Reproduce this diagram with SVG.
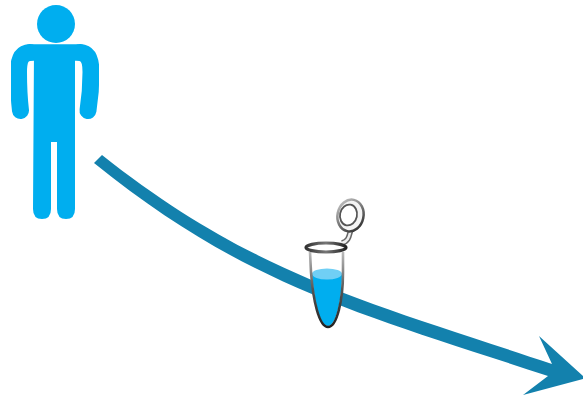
<svg xmlns="http://www.w3.org/2000/svg" width="583" height="397" viewBox="0 0 583 397">
<style>
.p{fill:#00aeef}
.pa{fill:none;stroke:#00aeef;stroke-linecap:round;stroke-linejoin:round}
</style>
<defs>
<filter id="soft" x="-10%" y="-10%" width="120%" height="120%"><feGaussianBlur stdDeviation="0.7"/></filter>
<linearGradient id="ring" x1="0" y1="0" x2="1" y2="1"><stop offset="0" stop-color="#ccc"/><stop offset="0.5" stop-color="#777"/><stop offset="1" stop-color="#222"/></linearGradient>
<linearGradient id="rim" x1="0" y1="0" x2="1" y2="0"><stop offset="0" stop-color="#333"/><stop offset="0.5" stop-color="#777"/><stop offset="1" stop-color="#222"/></linearGradient>
<linearGradient id="wall" x1="0" y1="0" x2="0" y2="1"><stop offset="0" stop-color="#bbb"/><stop offset="0.5" stop-color="#555"/><stop offset="1" stop-color="#222"/></linearGradient>
</defs>
<rect width="583" height="397" fill="#fff"/>
<g id="connectors">
<path fill="#1381ad" d="M102,155 C251,273 362,300.500 552,364 L539,336 L583,376 L583,379 L523,395 L548,376 C358,313.500 245,285 94,163 Z"/>
</g>
<g id="person" filter="url(#soft)">
<circle class="p" cx="56" cy="24" r="19"/>
<path class="pa" stroke-width="16.500" d="M30,52.500 L80,52.500"/>
<path class="pa" stroke-width="17" d="M30,52.500 C21,53 18.500,60 18.500,72 C18.500,84 19,98 20.500,110.500"/>
<path class="pa" stroke-width="17" d="M80,52.500 C88,53 91,60 91,72 C91,84 90,98 88,110.500"/>
<path class="p" d="M34,50 L75,50 L75,209 Q75,219 66,219 Q57,219 57,209 L57,142 L51,142 L51,209 Q51,219 42,219 Q33,219 33,209 Z"/>
</g>
<g id="tube" filter="url(#soft)">
<path d="M310,250 L311,272 C313,300 319,327 328,327 C337,327 343,300 342,272 L343,250 Z" fill="#fff"/>
<path d="M312,275 C312,268 342,268 342,275 C342,298 336,326 328,326 C319,326 314,298 312,275 Z" fill="#00aeef"/>
<ellipse cx="327" cy="274" rx="15" ry="5.500" fill="#6fcff5"/>
<path d="M310,252 L311,272 C313,300 319,327 328,327 C337,327 343,300 343,272 L343,252" fill="none" stroke="url(#wall)" stroke-width="2.600"/>
<path d="M342,243 C349,241 349,236 351,229" fill="none" stroke="#666" stroke-width="5.500"/>
<path d="M342,243 C349,241 349,236 351,229" fill="none" stroke="#eee" stroke-width="2.500"/>
<ellipse cx="326" cy="247.500" rx="20" ry="4.500" fill="#fff" stroke="url(#rim)" stroke-width="3.200"/>
<ellipse cx="350.500" cy="215.500" rx="13" ry="16" fill="#f4f4f4" stroke="url(#ring)" stroke-width="2.500" transform="rotate(12 350.500 215.500)"/>
<ellipse cx="348.500" cy="215" rx="8.500" ry="10.500" fill="#fff" stroke="#555" stroke-width="1.800" transform="rotate(12 348.500 215)"/>
</g>
</svg>
